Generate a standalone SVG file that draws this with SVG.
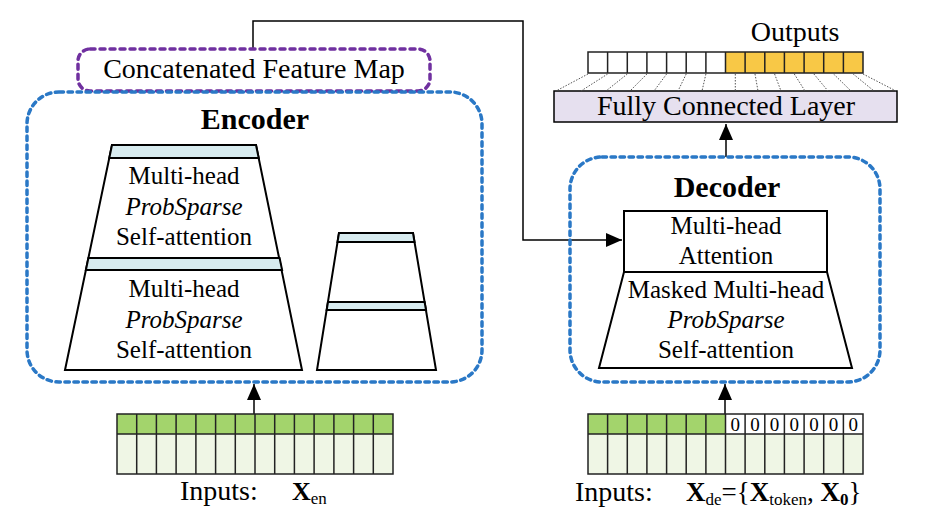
<svg xmlns="http://www.w3.org/2000/svg" width="927" height="530" viewBox="0 0 927 530" font-family="'Liberation Serif', 'Times New Roman', serif">
<defs>
<style>
text{font-family:"Liberation Serif","Times New Roman",serif;fill:#000}
.t25{font-size:25px;text-anchor:middle}
.t28{font-size:28px}
.hd{font-size:30px;font-weight:bold;text-anchor:middle}
.it{font-style:italic}
.blue{fill:none;stroke:#2a78c6;stroke-width:3.5;stroke-dasharray:4.5 4.5;stroke-linecap:round}
.purple{fill:none;stroke:#7030a0;stroke-width:3.5;stroke-dasharray:5 5;stroke-linecap:round}
.blk{fill:#fff;stroke:#000;stroke-width:2}
.band{fill:#d7ebef;stroke:#000;stroke-width:2}
.grid{fill:none;stroke:#222;stroke-width:1.5}
.con{fill:none;stroke:#000;stroke-width:1.5}
.dots{fill:none;stroke:#555;stroke-width:1;stroke-dasharray:1.5 1.5}
</style>
<marker id="ahb" viewBox="0 0 16 14" refX="16" refY="7" markerWidth="16" markerHeight="14" markerUnits="userSpaceOnUse" orient="auto">
<path d="M0,0 L16,7 L0,14 z" fill="#000"/>
</marker>
</defs>

<g id="connectors">
<path class="con" d="M253,48 V21 H523 V240 H622" marker-end="url(#ahb)"/>
<path class="con" d="M254,414 V384" marker-end="url(#ahb)"/>
<path class="con" d="M725,414 V384" marker-end="url(#ahb)"/>
<path class="con" d="M726,157 V124" marker-end="url(#ahb)"/>
</g>

<g id="concat">
<rect class="purple" x="78" y="49" width="352" height="42" rx="12"/>
<text class="t28" x="254" y="78" text-anchor="middle">Concatenated Feature Map</text>
</g>

<g id="encoder">
<rect class="blue" x="27" y="92" width="455" height="290" rx="32"/>
<text class="hd" x="255" y="129">Encoder</text>
<g id="enc-stack">
<polygon class="blk" points="112,145 256,145 302,370 65,370"/>
<polygon class="band" points="112,145 256,145 258.7,158 109.3,158"/>
<polygon class="band" points="88.4,258 279.6,258 282.1,270 85.9,270"/>
<text class="t25" x="184" y="184">Multi-head</text>
<text class="t25 it" x="184" y="215">ProbSparse</text>
<text class="t25" x="184" y="245">Self-attention</text>
<text class="t25" x="184" y="297">Multi-head</text>
<text class="t25 it" x="184" y="328">ProbSparse</text>
<text class="t25" x="184" y="358">Self-attention</text>
</g>
<g id="enc-small">
<polygon class="blk" points="339,233 413,233 436,370 317,370"/>
<polygon class="band" points="339,233 413,233 414.5,242 337.5,242"/>
<polygon class="band" points="328,302 424.6,302 426,310 326.7,310"/>
</g>
</g>

<g id="decoder">
<rect class="blue" x="570" y="157" width="310" height="225" rx="32"/>
<text class="hd" x="727" y="197">Decoder</text>
<rect class="blk" x="624" y="211" width="203" height="61"/>
<text class="t25" x="726" y="234">Multi-head</text>
<text class="t25" x="726" y="264">Attention</text>
<polygon class="blk" points="624,272 827,272 852,368 599,368"/>
<text class="t25" x="726" y="298">Masked Multi-head</text>
<text class="t25 it" x="726" y="328">ProbSparse</text>
<text class="t25" x="726" y="358">Self-attention</text>
</g>

<g id="fc">
<rect x="554" y="91" width="343" height="31" fill="#e6e0ef" stroke="#000" stroke-width="1.5"/>
<text class="t28" x="726" y="115" text-anchor="middle">Fully Connected Layer</text>
</g>

<g id="outputs">
<text class="t28" x="795" y="41" text-anchor="middle">Outputs</text>
<rect x="588" y="52" width="137.5" height="21" fill="#fff"/>
<rect x="725.5" y="52" width="137.5" height="21" fill="#f8c846"/>
<path class="grid" d="M588,52 H863 V73 H588 Z M607.6,52 V73 M627.3,52 V73 M646.9,52 V73 M666.6,52 V73 M686.2,52 V73 M705.9,52 V73 M725.5,52 V73 M745.1,52 V73 M764.8,52 V73 M784.4,52 V73 M804.1,52 V73 M823.7,52 V73 M843.4,52 V73"/>
<path class="dots" d="M588,74 L556,91 M607.6,74 L581,91 M627.3,74 L606,91 M646.9,74 L630,91 M666.6,74 L654,91 M686.2,74 L678,91 M705.9,74 L702,91 M735.3,74 L735.3,91 M755,74 L758,91 M774.6,74 L781,91 M794.3,74 L805,91 M813.9,74 L828,91 M833.6,74 L851,91 M853.2,74 L874,91 M863,74 L896,91"/>
</g>

<g id="enc-input">
<rect x="117" y="414" width="276" height="20" fill="#a3d46c"/>
<rect x="117" y="434" width="276" height="40" fill="#eff6e5"/>
<path class="grid" d="M117,414 H393 V474 H117 Z M117,434 H393 M136.7,414 V474 M156.4,414 V474 M176.1,414 V474 M195.9,414 V474 M215.6,414 V474 M235.3,414 V474 M255,414 V474 M274.7,414 V474 M294.4,414 V474 M314.1,414 V474 M333.9,414 V474 M353.6,414 V474 M373.3,414 V474"/>
<text class="t28" x="180" y="500">Inputs:</text>
<text y="500" font-size="26"><tspan x="292" font-weight="bold">X</tspan><tspan y="504" font-size="17">en</tspan></text>
</g>

<g id="dec-input">
<rect x="588" y="414" width="137.5" height="20" fill="#a3d46c"/>
<rect x="725.5" y="414" width="137.5" height="20" fill="#fff"/>
<rect x="588" y="434" width="275" height="40" fill="#eff6e5"/>
<path class="grid" d="M588,414 H863 V474 H588 Z M588,434 H863 M607.6,414 V474 M627.3,414 V474 M646.9,414 V474 M666.6,414 V474 M686.2,414 V474 M705.9,414 V474 M725.5,414 V474 M745.1,414 V474 M764.8,414 V474 M784.4,414 V474 M804.1,414 V474 M823.7,414 V474 M843.4,414 V474"/>
<g font-size="19" text-anchor="middle">
<text x="735.3" y="431">0</text><text x="755" y="431">0</text><text x="774.6" y="431">0</text><text x="794.3" y="431">0</text><text x="813.9" y="431">0</text><text x="833.6" y="431">0</text><text x="853.2" y="431">0</text>
</g>
<text class="t28" x="575" y="501">Inputs:</text>
<text font-size="27" y="501"><tspan x="686" font-weight="bold">X</tspan><tspan y="505" font-size="17">de</tspan><tspan y="501">={</tspan><tspan font-weight="bold">X</tspan><tspan y="505" font-size="17">token</tspan><tspan y="501">, </tspan><tspan font-weight="bold">X</tspan><tspan y="505" font-size="17" font-weight="bold">0</tspan><tspan y="501">}</tspan></text>
</g>
</svg>
